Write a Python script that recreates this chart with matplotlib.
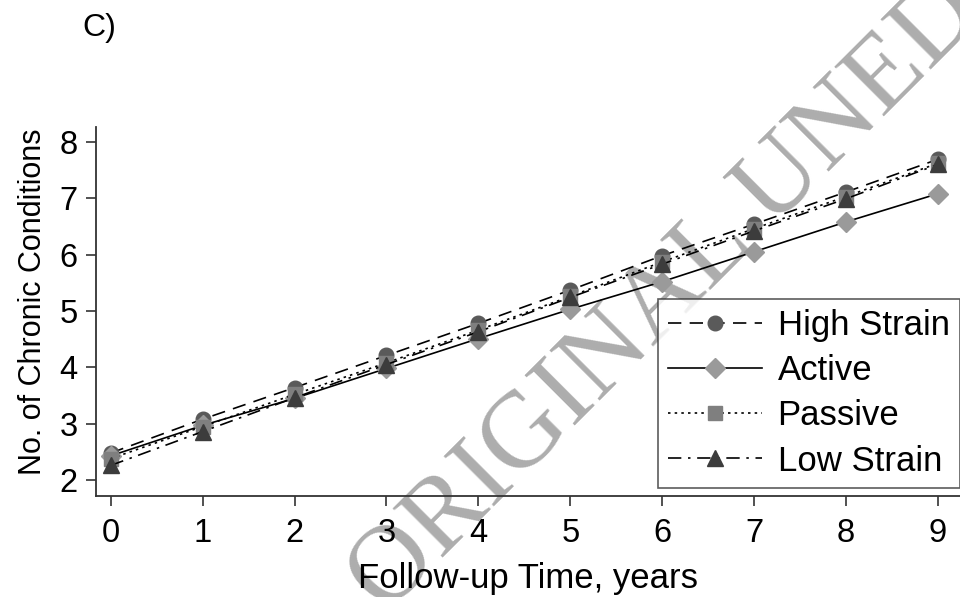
import matplotlib
matplotlib.use("Agg")
import matplotlib.pyplot as plt

plt.rcParams['font.family'] = ['Liberation Sans', 'DejaVu Sans']

years = [0, 1, 2, 3, 4, 5, 6, 7, 8, 9]
high_strain = [2.48, 3.08, 3.64, 4.21, 4.78, 5.37, 5.98, 6.54, 7.11, 7.69]
active = [2.43, 2.97, 3.45, 3.98, 4.51, 5.03, 5.52, 6.05, 6.58, 7.08]
passive = [2.38, 2.95, 3.52, 4.08, 4.66, 5.26, 5.87, 6.46, 7.03, 7.62]
low_strain = [2.26, 2.86, 3.46, 4.05, 4.63, 5.24, 5.83, 6.42, 6.99, 7.60]
labels = ['High Strain', 'Active', 'Passive', 'Low Strain']

fig = plt.figure(figsize=(9.6, 5.97), dpi=100)
ax = fig.add_axes([0.0997, 0.169, 0.9003, 0.618])
ax.set_facecolor('none')

# watermark, drawn under the axes
fig.text(385 / 960, 1 - 615 / 597, 'ORIGINAL UNEDITED MANUSCRIPT',
         family='Liberation Serif', fontsize=78, color='#adadad',
         rotation=45, rotation_mode='anchor', ha='left', va='baseline', zorder=-1)

series = [high_strain, active, passive, low_strain]
markers = ['o', 'D', 's', '^']
mcolors = ['#5a5a5a', '#9a9a9a', '#7f7f7f', '#3c3c3c']
msizes = [10.5, 10.5, 10, 11]
dashes = [(8, 5), (), (1.5, 2.5), (8, 4, 1.5, 4)]
for i in range(len(series)):
    line, = ax.plot(years, series[i], color='black', lw=1.2,
                    marker=markers[i], markersize=msizes[i],
                    markerfacecolor=mcolors[i], markeredgecolor=mcolors[i],
                    label=labels[i])
    if dashes[i]:
        line.set_dashes(dashes[i])

ax.set_xlim(-0.163, 9.24)
ax.set_ylim(1.716, 8.26)
ax.set_xticks(years)
ax.set_yticks(range(2, 9))
ax.tick_params(direction='out', length=7, width=1.2, labelsize=23.5, colors='#333333',
               labelcolor='black')
ax.tick_params(axis='x', pad=9)
ax.tick_params(axis='y', pad=6)
for side in ['top', 'right']:
    ax.spines[side].set_visible(False)
for side in ['left', 'bottom']:
    ax.spines[side].set_color('#333333')
    ax.spines[side].set_linewidth(1.3)

ax.set_xlabel('Follow-up Time, years', fontsize=25, labelpad=9)
ax.set_ylabel('No. of Chronic Conditions', fontsize=22)
ax.yaxis.set_label_coords(-0.055, 0.526)

leg = ax.legend(loc='lower right', bbox_to_anchor=(1.0, 0.022), fontsize=25,
                frameon=True, fancybox=False, edgecolor='#333333',
                handlelength=2.7, handletextpad=0.45, borderpad=0.3,
                labelspacing=0.35, borderaxespad=0)
leg.get_frame().set_linewidth(1.2)

fig.text(82 / 960, 1 - 28 / 597, 'C)', fontsize=23, va='center', ha='left')

fig.savefig('out.png', dpi=100)
